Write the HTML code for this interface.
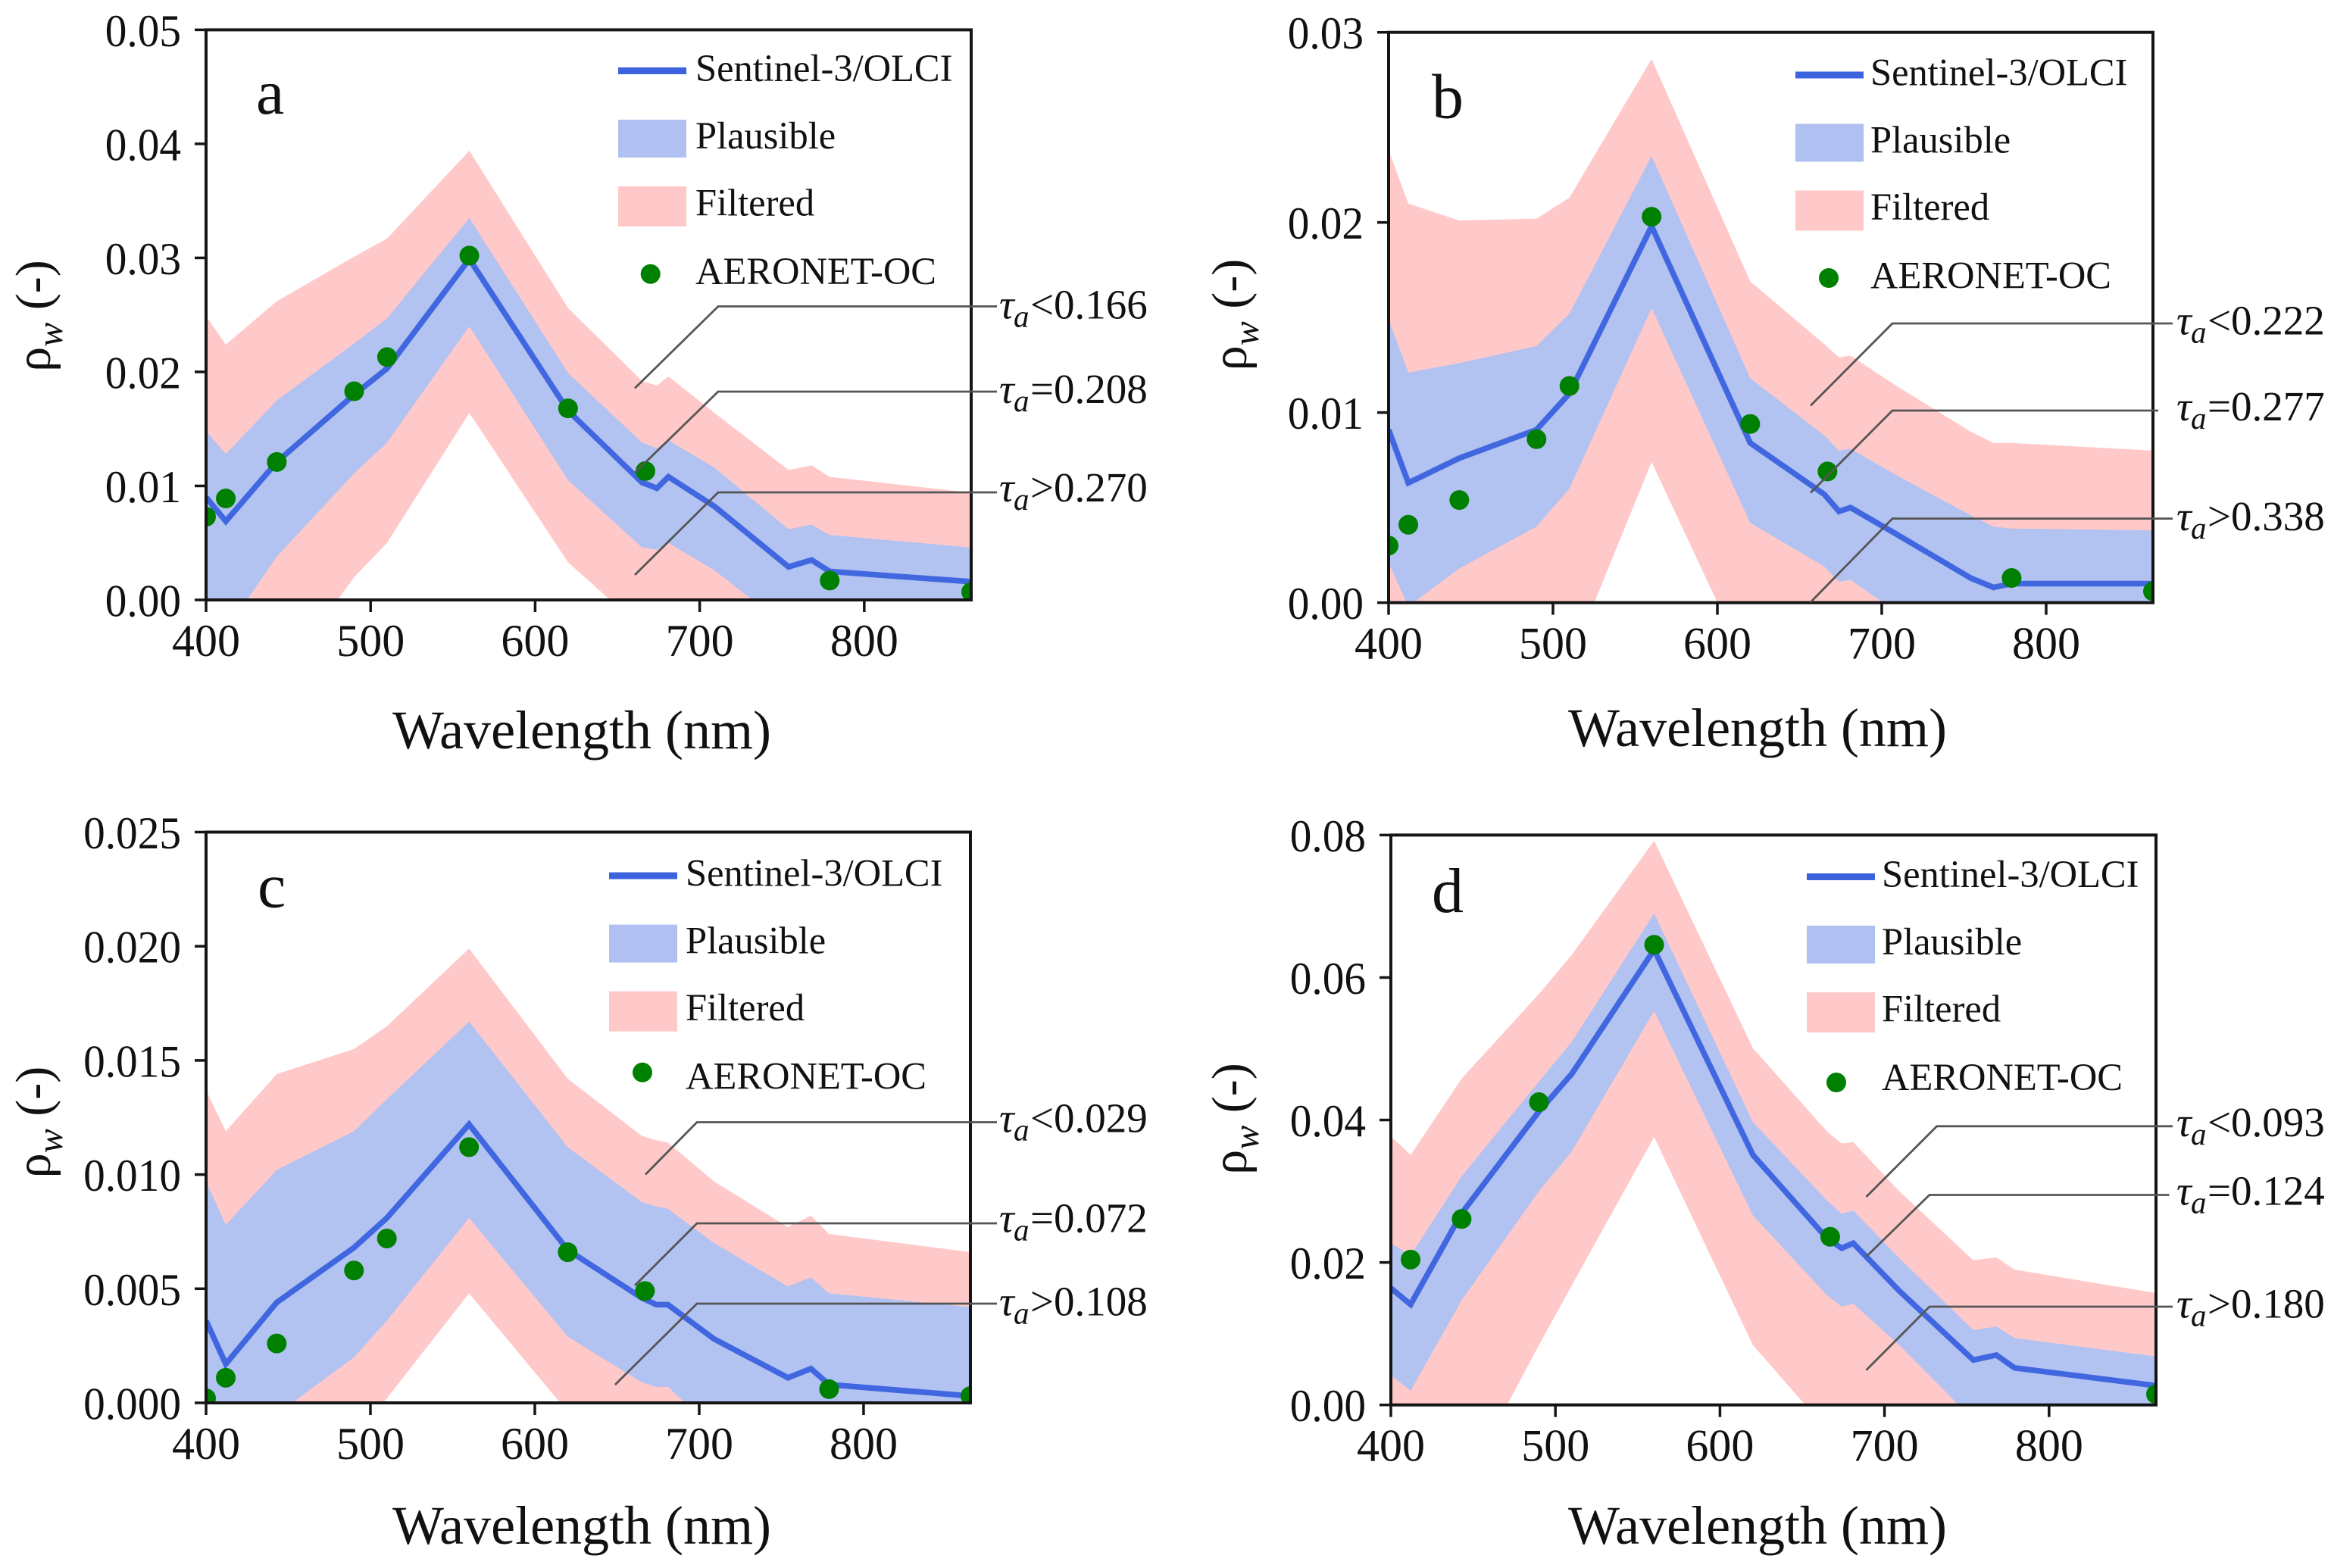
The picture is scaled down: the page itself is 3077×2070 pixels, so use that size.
<!DOCTYPE html>
<html lang="en">
<head>
<meta charset="utf-8">
<title>Water-leaving reflectance spectra</title>
<style>
html,body{margin:0;padding:0;background:#fff;}
#figure{display:block;width:3077px;height:2070px;background:#fff;}
text{font-family:"Liberation Serif","DejaVu Serif",serif;fill:#111;}
</style>
</head>
<body>
<svg id="figure" xmlns="http://www.w3.org/2000/svg" width="3077" height="2070" viewBox="0 0 3077 2070"></svg>
<script>
var wavelengths = [400, 412, 443, 490, 510, 560, 620, 665, 674, 681, 709, 754, 768, 779, 865];
var xTickValues = [400, 500, 600, 700, 800];

var yTicksA = ['0.00', '0.01', '0.02', '0.03', '0.04', '0.05'];
var lineA = [0.0090, 0.0069, 0.0121, 0.0180, 0.0203, 0.0299, 0.0166, 0.0103, 0.0098, 0.0108, 0.0082, 0.0029, 0.0035, 0.0025, 0.0016];
var plausibleUpperA = [0.0148, 0.0128, 0.0175, 0.0225, 0.0247, 0.0335, 0.0199, 0.0138, 0.0133, 0.0140, 0.0116, 0.0062, 0.0066, 0.0057, 0.0046];
var plausibleLowerA = [-0.0040, -0.0027, 0.0038, 0.0111, 0.0138, 0.0240, 0.0105, 0.0046, 0.0044, 0.0050, 0.0026, -0.0025, -0.0030, -0.0030, -0.0040];
var filteredUpperA = [0.0249, 0.0224, 0.0262, 0.0301, 0.0317, 0.0394, 0.0256, 0.0192, 0.0188, 0.0196, 0.0164, 0.0114, 0.0118, 0.0108, 0.0094];
var filteredLowerA = [-0.0120, -0.0110, -0.0074, 0.0020, 0.0050, 0.0164, 0.0033, -0.0025, -0.0040, -0.0040, -0.0060, -0.0100, -0.0100, -0.0100, -0.0100];
var dotWavelengthsA = [400, 412, 443, 490, 510, 560, 620, 667, 779, 865];
var dotValuesA = [0.0073, 0.0089, 0.0121, 0.0183, 0.0213, 0.0302, 0.0168, 0.0113, 0.0017, 0.0007];
var tauLabelsA = ['<0.166', '=0.208', '>0.270'];

var yTicksB = ['0.00', '0.01', '0.02', '0.03'];
var lineB = [0.0091, 0.0063, 0.0076, 0.0091, 0.0110, 0.0198, 0.0084, 0.0057, 0.0048, 0.0050, 0.0036, 0.0013, 0.0008, 0.0010, 0.0010];
var plausibleUpperB = [0.0149, 0.0121, 0.0126, 0.0135, 0.0152, 0.0235, 0.0118, 0.0088, 0.0080, 0.0081, 0.0067, 0.0046, 0.0040, 0.0039, 0.0038];
var plausibleLowerB = [0.0021, -0.0002, 0.0018, 0.0040, 0.0060, 0.0155, 0.0042, 0.0019, 0.0011, 0.0012, -0.0005, -0.0030, -0.0030, -0.0030, -0.0030];
var filteredUpperB = [0.0238, 0.0210, 0.0201, 0.0202, 0.0213, 0.0286, 0.0169, 0.0136, 0.0129, 0.0130, 0.0114, 0.0090, 0.0084, 0.0084, 0.0080];
var filteredLowerB = [-0.0100, -0.0090, -0.0080, -0.0060, -0.0032, 0.0074, -0.0037, -0.0080, -0.0090, -0.0090, -0.0100, -0.0100, -0.0100, -0.0100, -0.0100];
var dotWavelengthsB = [400, 412, 443, 490, 510, 560, 620, 667, 779, 865];
var dotValuesB = [0.0030, 0.0041, 0.0054, 0.0086, 0.0114, 0.0203, 0.0094, 0.0069, 0.0013, 0.0006];
var tauLabelsB = ['<0.222', '=0.277', '>0.338'];

var yTicksC = ['0.000', '0.005', '0.010', '0.015', '0.020', '0.025'];
var lineC = [0.0036, 0.0017, 0.0044, 0.0068, 0.0081, 0.0122, 0.0067, 0.0046, 0.0043, 0.0043, 0.0028, 0.0011, 0.0015, 0.0008, 0.0003];
var plausibleUpperC = [0.0097, 0.0078, 0.0102, 0.0119, 0.0133, 0.0167, 0.0112, 0.0088, 0.0086, 0.0085, 0.0070, 0.0051, 0.0055, 0.0048, 0.0042];
var plausibleLowerC = [-0.0060, -0.0040, -0.0005, 0.0020, 0.0036, 0.0081, 0.0029, 0.0009, 0.0007, 0.0007, -0.0012, -0.0030, -0.0030, -0.0030, -0.0030];
var filteredUpperC = [0.0137, 0.0119, 0.0144, 0.0155, 0.0165, 0.0199, 0.0142, 0.0117, 0.0115, 0.0114, 0.0097, 0.0077, 0.0082, 0.0074, 0.0066];
var filteredLowerC = [-0.0080, -0.0070, -0.0050, -0.0015, 0.0002, 0.0048, -0.0004, -0.0040, -0.0050, -0.0050, -0.0060, -0.0060, -0.0060, -0.0060, -0.0060];
var dotWavelengthsC = [400, 412, 443, 490, 510, 560, 620, 667, 779, 865];
var dotValuesC = [0.0002, 0.0011, 0.0026, 0.0058, 0.0072, 0.0112, 0.0066, 0.0049, 0.0006, 0.0003];
var tauLabelsC = ['<0.029', '=0.072', '>0.108'];

var yTicksD = ['0.00', '0.02', '0.04', '0.06', '0.08'];
var lineD = [0.0164, 0.0141, 0.0269, 0.0412, 0.0465, 0.0639, 0.0351, 0.0234, 0.0220, 0.0227, 0.0160, 0.0063, 0.0070, 0.0052, 0.0027];
var plausibleUpperD = [0.0227, 0.0210, 0.0321, 0.0454, 0.0510, 0.0690, 0.0397, 0.0287, 0.0268, 0.0273, 0.0206, 0.0105, 0.0110, 0.0094, 0.0068];
var plausibleLowerD = [0.0042, 0.0020, 0.0147, 0.0300, 0.0356, 0.0553, 0.0266, 0.0154, 0.0138, 0.0142, 0.0084, -0.0021, -0.0040, -0.0040, -0.0040];
var filteredUpperD = [0.0377, 0.0351, 0.0458, 0.0577, 0.0632, 0.0792, 0.0501, 0.0384, 0.0367, 0.0369, 0.0300, 0.0203, 0.0207, 0.0190, 0.0157];
var filteredLowerD = [-0.0300, -0.0250, -0.0120, 0.0084, 0.0168, 0.0376, 0.0084, -0.0035, -0.0060, -0.0060, -0.0120, -0.0200, -0.0200, -0.0200, -0.0200];
var dotWavelengthsD = [412, 443, 490, 560, 667, 865];
var dotValuesD = [0.0204, 0.0261, 0.0425, 0.0646, 0.0236, 0.0015];
var tauLabelsD = ['<0.093', '=0.124', '>0.180'];

var xMin = 400;
var xMax = 865;
var svg = document.getElementById('figure');
var NS = 'http://www.w3.org/2000/svg';

function make(parent, tag, attrs, content) {
  var el = document.createElementNS(NS, tag);
  for (var k in attrs) { el.setAttribute(k, attrs[k]); }
  if (content !== undefined) { el.textContent = content; }
  parent.appendChild(el);
  return el;
}

function drawPanel(p) {
  var root = make(svg, 'g', {});
  
  

  function X(v) { return p.left + (v - xMin) / (xMax - xMin) * (p.right - p.left); }
  function Y(v) { return p.bottom - v / p.yMax * (p.bottom - p.top); }
  function bandPoints(upper, lower) {
    var pts = [];
    for (var i = 0; i < wavelengths.length; i++) { pts.push(X(wavelengths[i]) + ',' + Y(upper[i])); }
    for (var j = wavelengths.length - 1; j >= 0; j--) { pts.push(X(wavelengths[j]) + ',' + Y(lower[j])); }
    return pts.join(' ');
  }

  var clipId = 'clip-' + p.letter;
  var defs = make(root, 'defs', {});
  var clip = make(defs, 'clipPath', { id: clipId });
  make(clip, 'rect', { x: p.left, y: p.top, width: p.right - p.left, height: p.bottom - p.top });

  var plot = make(root, 'g', { 'clip-path': 'url(#' + clipId + ')' });
  
  

  var filtered = make(plot, 'polygon', { points: bandPoints(p.filteredUpper, p.filteredLower), fill: '#ffc9c9' });
  
  

  var plausible = make(plot, 'polygon', { points: bandPoints(p.plausibleUpper, p.plausibleLower), fill: '#b2c2f1' });
  
  

  var linePts = [];
  for (var i = 0; i < wavelengths.length; i++) { linePts.push(X(wavelengths[i]) + ',' + Y(p.line[i])); }
  var olci = make(plot, 'polyline', { points: linePts.join(' '), fill: 'none', stroke: '#4167e0', 'stroke-width': 7.5, 'stroke-linejoin': 'miter' });
  
  

  for (var d = 0; d < p.dotX.length; d++) {
    var dot = make(plot, 'circle', { cx: X(p.dotX[d]), cy: Y(p.dotY[d]), r: 13, fill: '#008000' });
    
    
  }

  var frame = make(root, 'rect', { x: p.left, y: p.top, width: p.right - p.left, height: p.bottom - p.top, fill: 'none', stroke: '#151515', 'stroke-width': 4 });
  
  

  for (var tx = 0; tx < xTickValues.length; tx++) {
    var xp = X(xTickValues[tx]);
    var xTick = make(root, 'line', { x1: xp, x2: xp, y1: p.bottom, y2: p.bottom + 16, stroke: '#151515', 'stroke-width': 3.5 });
    
    
    var xLabel = make(root, 'text', { x: xp, y: p.bottom + 74, 'text-anchor': 'middle', 'font-size': 60 }, String(xTickValues[tx]));
    
    
  }

  for (var ty = 0; ty < p.yTicks.length; ty++) {
    var yp = Y(parseFloat(p.yTicks[ty]));
    var yTick = make(root, 'line', { x1: p.left - 15, x2: p.left, y1: yp, y2: yp, stroke: '#151515', 'stroke-width': 3.5 });
    
    
    var yLabel = make(root, 'text', { transform: 'translate(' + (p.left - 33) + ',' + (yp + 21.5) + ') scale(0.955,1)', 'text-anchor': 'end', 'font-size': 60 }, p.yTicks[ty]);
    
    
  }

  var xTitle = make(root, 'text', { x: p.xTitleX, y: p.xTitleY, 'text-anchor': 'middle', 'font-size': 72 }, 'Wavelength (nm)');
  
  

  var yTitle = make(root, 'text', { transform: 'translate(' + p.yTitleX + ',' + p.yTitleY + ') rotate(-90)', 'text-anchor': 'middle', 'font-size': 66 });
  
  
  make(yTitle, 'tspan', {}, 'ρ');
  make(yTitle, 'tspan', { 'font-style': 'italic', 'font-size': 48, dy: 16 }, 'w');
  make(yTitle, 'tspan', { dy: -16 }, ' (-)');

  var letter = make(root, 'text', { x: p.letterX, y: p.letterY, 'font-size': 84 }, p.letter);
  
  

  var legend = make(root, 'g', {});
  
  

  var lx = p.legendX, ly = p.legendY;
  var legendLine = make(legend, 'rect', { x: lx, y: ly + 89, width: 90, height: 9, fill: '#3c62de' });
  
  
  var legendPlausible = make(legend, 'rect', { x: lx, y: ly + 158, width: 90, height: 50, fill: '#b0c0f0' });
  
  
  var legendFiltered = make(legend, 'rect', { x: lx, y: ly + 246, width: 90, height: 53, fill: '#ffc9c9' });
  
  
  var legendDot = make(legend, 'circle', { cx: p.legendDotX, cy: p.legendDotY, r: 13, fill: '#008000' });
  
  

  var names = ['Sentinel-3/OLCI', 'Plausible', 'Filtered', 'AERONET-OC'];
  var offs = [107, 196, 284.5, 375];
  for (var n = 0; n < names.length; n++) {
    var lt = make(legend, 'text', { x: p.legendTextX, y: ly + offs[n], 'font-size': 50.5 }, names[n]);
    
    
  }

  for (var a = 0; a < 3; a++) {
    var ann = p.leaders[a];
    var leader = make(root, 'polyline', { points: ann.pts, fill: 'none', stroke: '#555', 'stroke-width': 2.8 });
    
    
    var t = make(root, 'text', { x: p.tauX, y: ann.base, 'font-size': 55 });
    
    
    make(t, 'tspan', { 'font-style': 'italic' }, 'τ');
    make(t, 'tspan', { 'font-style': 'italic', 'font-size': 41, x: p.tauX + 19, dy: 11 }, 'a');
    make(t, 'tspan', { x: p.tauX + 41, dy: -11 }, p.tauLabels[a]);
  }
}

drawPanel({
  letter: 'a', left: 272, right: 1282, top: 39.4, bottom: 792, yMax: 0.05, yTicks: yTicksA,
  line: lineA, plausibleUpper: plausibleUpperA, plausibleLower: plausibleLowerA, filteredUpper: filteredUpperA, filteredLower: filteredLowerA,
  dotX: dotWavelengthsA, dotY: dotValuesA, tauLabels: tauLabelsA,
  xTitleX: 768, xTitleY: 988, yTitleX: 66, yTitleY: 417, letterX: 338, letterY: 150,
  legendX: 816, legendY: 0, legendTextX: 918, legendDotX: 858.7, legendDotY: 361.7, tauX: 1319,
  leaders: [
    { pts: '838,512.5 948,404.5 1316,404.5', base: 420.5 },
    { pts: '838,624 948,517 1316,517', base: 532 },
    { pts: '838,759 948,650 1316,650', base: 662 }
  ]
});

drawPanel({
  letter: 'b', left: 1833, right: 2842, top: 42.7, bottom: 795.6, yMax: 0.03, yTicks: yTicksB,
  line: lineB, plausibleUpper: plausibleUpperB, plausibleLower: plausibleLowerB, filteredUpper: filteredUpperB, filteredLower: filteredLowerB,
  dotX: dotWavelengthsB, dotY: dotValuesB, tauLabels: tauLabelsB,
  xTitleX: 2320, xTitleY: 985, yTitleX: 1645, yTitleY: 415.5, letterX: 1890, letterY: 155.7,
  legendX: 2370, legendY: 5.5, legendTextX: 2469, legendDotX: 2414, legendDotY: 367, tauX: 2873,
  leaders: [
    { pts: '2390,535.5 2498,427 2868,427', base: 441.5 },
    { pts: '2390,650.5 2498,542 2849,542', base: 555 },
    { pts: '2390,795 2498,684.6 2868,684.6', base: 700 }
  ]
});

drawPanel({
  letter: 'c', left: 272, right: 1281, top: 1098.5, bottom: 1852, yMax: 0.025, yTicks: yTicksC,
  line: lineC, plausibleUpper: plausibleUpperC, plausibleLower: plausibleLowerC, filteredUpper: filteredUpperC, filteredLower: filteredLowerC,
  dotX: dotWavelengthsC, dotY: dotValuesC, tauLabels: tauLabelsC,
  xTitleX: 768, xTitleY: 2038, yTitleX: 66, yTitleY: 1481.5, letterX: 340, letterY: 1197.7,
  legendX: 804, legendY: 1062.6, legendTextX: 905, legendDotX: 848, legendDotY: 1415.8, tauX: 1319,
  leaders: [
    { pts: '852,1550.5 920,1481.5 1316,1481.5', base: 1494.7 },
    { pts: '838,1697 920,1615 1316,1615', base: 1626.7 },
    { pts: '812,1828 920,1721 1316,1721', base: 1736.5 }
  ]
});

drawPanel({
  letter: 'd', left: 1836, right: 2846, top: 1102.4, bottom: 1854.7, yMax: 0.08, yTicks: yTicksD,
  line: lineD, plausibleUpper: plausibleUpperD, plausibleLower: plausibleLowerD, filteredUpper: filteredUpperD, filteredLower: filteredLowerD,
  dotX: dotWavelengthsD, dotY: dotValuesD, tauLabels: tauLabelsD,
  xTitleX: 2320, xTitleY: 2038, yTitleX: 1645, yTitleY: 1477, letterX: 1890, letterY: 1204,
  legendX: 2385, legendY: 1064, legendTextX: 2484, legendDotX: 2424, legendDotY: 1429, tauX: 2873,
  leaders: [
    { pts: '2463.5,1580 2556.7,1486.8 2868,1486.8', base: 1500 },
    { pts: '2463.5,1659 2547,1577.5 2863.5,1577.5', base: 1590.6 },
    { pts: '2463.5,1808.7 2547,1725 2868,1725', base: 1739.7 }
  ]
});
</script>
</body>
</html>
